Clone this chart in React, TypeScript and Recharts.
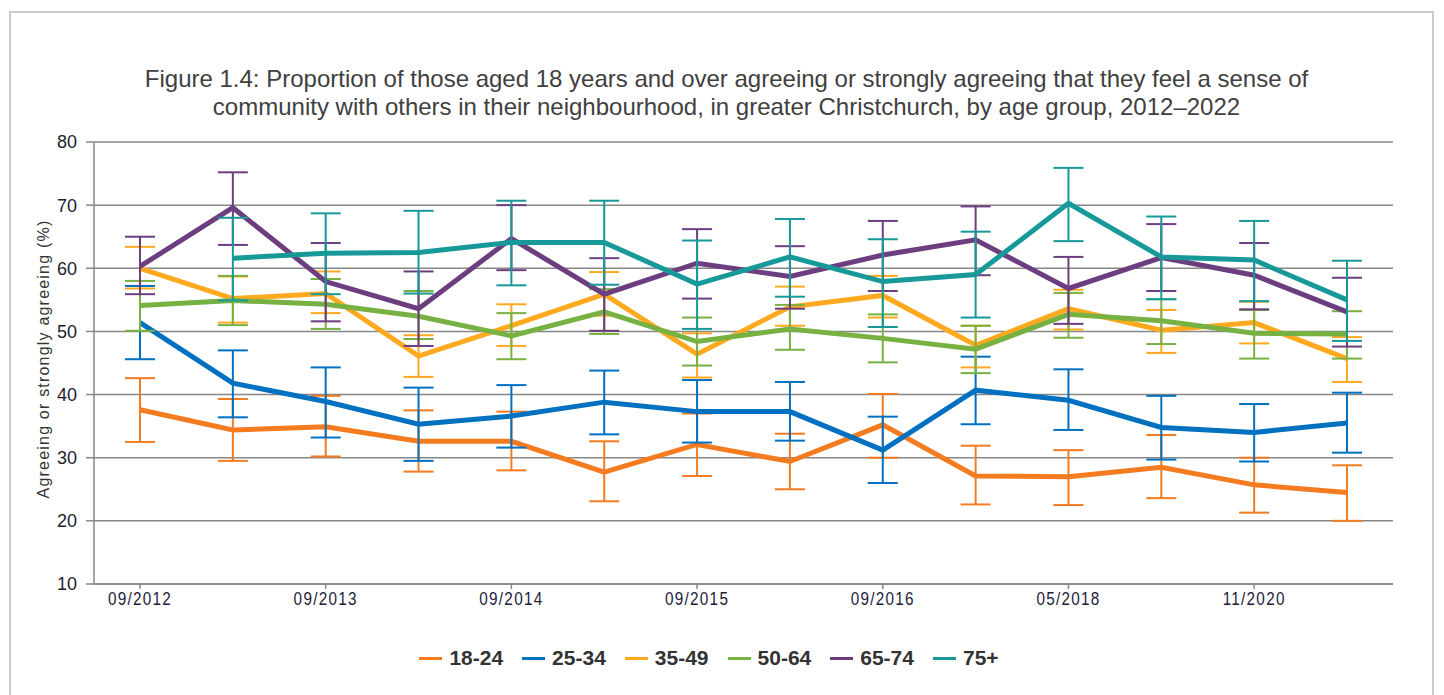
import React from "react"
import { LineChart, Line, XAxis, YAxis, CartesianGrid, ErrorBar, Label } from "recharts"

// survey waves (only every second one is labelled on the axis)
const waves = [
  "09/2012", "03/2013", "09/2013", "03/2014", "09/2014", "03/2015", "09/2015",
  "03/2016", "09/2016", "09/2017", "05/2018", "05/2019", "11/2020", "05/2022",
]

const ages = ["18-24", "25-34", "35-49", "50-64", "65-74", "75+"]
const colors = ["#F47B20", "#0070C0", "#FFA91F", "#77B142", "#6C3E80", "#17999A"]

// point estimates (%)
const v1824 = [37.6, 34.4, 34.9, 32.6, 32.6, 27.7, 32.1, 29.4, 35.2, 27.1, 27.0, 28.5, 25.7, 24.5]
const v2534 = [51.4, 41.8, 38.9, 35.3, 36.6, 38.8, 37.3, 37.3, 31.2, 40.7, 39.1, 34.8, 34.0, 35.5]
const v3549 = [60.0, 55.2, 56.0, 46.1, 50.9, 55.9, 46.4, 53.9, 55.7, 47.8, 53.6, 50.2, 51.4, 45.7]
const v5064 = [54.1, 54.9, 54.3, 52.4, 49.3, 53.1, 48.4, 50.4, 48.9, 47.2, 52.7, 51.7, 49.7, 49.6]
const v6574 = [60.3, 69.6, 57.9, 53.6, 64.7, 55.9, 60.8, 58.7, 62.1, 64.5, 56.8, 61.7, 58.9, 53.1]
const v75 = [null, 61.6, 62.4, 62.5, 64.1, 64.1, 57.5, 61.8, 57.9, 59.0, 70.3, 61.8, 61.3, 55.0]

// lower / upper confidence limits
const lo1824 = [32.5, 29.5, 30.2, 27.8, 28.0, 23.1, 27.1, 25.0, 30.0, 22.6, 22.5, 23.6, 21.3, 20.0]
const hi1824 = [42.6, 39.3, 39.8, 37.5, 37.3, 32.6, 37.0, 33.8, 40.1, 31.9, 31.2, 33.6, 30.0, 28.8]
const lo2534 = [45.6, 36.4, 33.2, 29.5, 31.6, 33.7, 32.4, 32.7, 26.0, 35.3, 34.4, 29.7, 29.4, 30.8]
const hi2534 = [57.2, 47.0, 44.3, 41.1, 41.5, 43.8, 42.3, 42.0, 36.5, 46.0, 44.0, 39.8, 38.5, 40.3]
const lo3549 = [56.8, 51.4, 52.9, 42.8, 47.7, 52.5, 42.7, 50.9, 52.2, 44.3, 50.3, 46.6, 48.1, 42.0]
const hi3549 = [63.4, 58.7, 59.5, 49.4, 54.3, 59.4, 49.7, 57.1, 58.8, 50.9, 56.6, 53.4, 54.7, 49.1]
const lo5064 = [50.1, 51.0, 50.4, 48.8, 45.6, 49.6, 44.6, 47.1, 45.1, 43.4, 49.0, 48.0, 45.7, 45.7]
const hi5064 = [58.0, 58.8, 58.3, 56.4, 52.9, 56.7, 52.2, 54.2, 52.7, 50.9, 56.1, 55.1, 53.4, 53.2]
const lo6574 = [55.9, 63.7, 51.6, 47.7, 59.7, 50.1, 55.2, 53.6, 56.4, 58.9, 51.2, 56.4, 53.5, 47.6]
const hi6574 = [65.0, 75.2, 64.0, 59.5, 70.0, 61.6, 66.2, 63.5, 67.5, 69.8, 61.8, 67.0, 64.0, 58.5]
const lo75 = [null, 54.9, 55.9, 56.0, 57.3, 57.4, 50.4, 55.5, 50.7, 52.2, 64.3, 55.1, 54.8, 48.5]
const hi75 = [null, 68.0, 68.7, 69.1, 70.7, 70.7, 64.4, 67.8, 64.6, 65.8, 75.9, 68.2, 67.5, 61.2]

const yTicks = [10, 20, 30, 40, 50, 60, 70, 80]

const values = [v1824, v2534, v3549, v5064, v6574, v75]
const lows = [lo1824, lo2534, lo3549, lo5064, lo6574, lo75]
const highs = [hi1824, hi2534, hi3549, hi5064, hi6574, hi75]

const data = waves.map((wave, i) => {
  const row: Record<string, any> = { wave }
  values.forEach((vals, s) => {
    const v = vals[i]
    row[`s${s}`] = v
    row[`e${s}`] = v == null ? null : [v - (lows[s][i] as number), (highs[s][i] as number) - v]
  })
  return row
})

const font = "'Liberation Sans', Arial, sans-serif"

// narrow-looking date labels under the x axis
const WaveTick = (props: any) => {
  const { x, y, payload } = props
  return (
    <g transform={`translate(${x},${y})`}>
      <text
        transform="scale(0.85,1)"
        textAnchor="middle"
        dy="0.71em"
        fill="#1c1c3a"
        fontSize={18}
        letterSpacing={1.5}
        fontFamily={font}
      >
        {payload.value}
      </text>
    </g>
  )
}

export default function App() {
  return (
    <div style={{ position: "absolute", left: 0, top: 0, width: 1444, height: 695, background: "#fff", fontFamily: font }}>
      <div
        style={{
          position: "absolute", left: 9, top: 11, width: 1425, height: 700,
          border: "2px solid #cacaca", boxSizing: "border-box",
        }}
      />
      <div
        style={{
          position: "absolute", left: 0, top: 65, width: 1453, textAlign: "center",
          fontSize: 24, lineHeight: "28px", color: "#404040",
        }}
      >
        Figure 1.4: Proportion of those aged 18 years and over agreeing or strongly agreeing that they feel a sense of
        <br />
        community with others in their neighbourhood, in greater Christchurch, by age group, 2012–2022
      </div>

      <div style={{ position: "absolute", left: 0, top: 0 }}>
        <LineChart width={1444} height={695} data={data} margin={{ top: 142, right: 51, bottom: 81, left: 0 }}>
          <CartesianGrid vertical={false} stroke="#878787" strokeWidth={1.5} />
          <XAxis
            dataKey="wave"
            interval={1}
            height={30}
            padding={{ left: 46, right: 46 }}
            stroke="#878787"
            strokeWidth={1.5}
            tickSize={5}
            tickMargin={3}
            tick={<WaveTick />}
          />
          <YAxis
            width={94}
            domain={[10, 80]}
            ticks={yTicks}
            stroke="#878787"
            strokeWidth={1.5}
            tickSize={8}
            tickMargin={9}
            tick={{ fill: "#1c1c2e", fontSize: 18, fontFamily: font }}
          >
            <Label
              content={() => (
                <text
                  x={43}
                  y={359}
                  transform="rotate(-90 43 359)"
                  textAnchor="middle"
                  dominantBaseline="central"
                  fill="#333"
                  fontSize={16}
                  letterSpacing={1.2}
                  fontFamily={font}
                >
                  Agreeing or strongly agreeing (%)
                </text>
              )}
            />
          </YAxis>
          {ages.map((age, s) => (
            <Line
              key={age}
              name={age}
              dataKey={`s${s}`}
              stroke={colors[s]}
              strokeWidth={5}
              dot={false}
              activeDot={false}
              isAnimationActive={false}
            >
              <ErrorBar dataKey={`e${s}`} width={15} stroke={colors[s]} strokeWidth={2} direction="y" />
            </Line>
          ))}
        </LineChart>
      </div>

      <div
        style={{
          position: "absolute", left: 0, top: 645, width: 1418, display: "flex",
          justifyContent: "center", alignItems: "center",
        }}
      >
        {ages.map((age, s) => (
          <div key={age} style={{ display: "flex", alignItems: "center", marginRight: s < ages.length - 1 ? 19 : 0 }}>
            <div style={{ width: 23, height: 3, background: colors[s], marginRight: 7 }} />
            <span style={{ fontSize: 21, fontWeight: "bold", color: "#333", lineHeight: "26px" }}>{age}</span>
          </div>
        ))}
      </div>
    </div>
  )
}
